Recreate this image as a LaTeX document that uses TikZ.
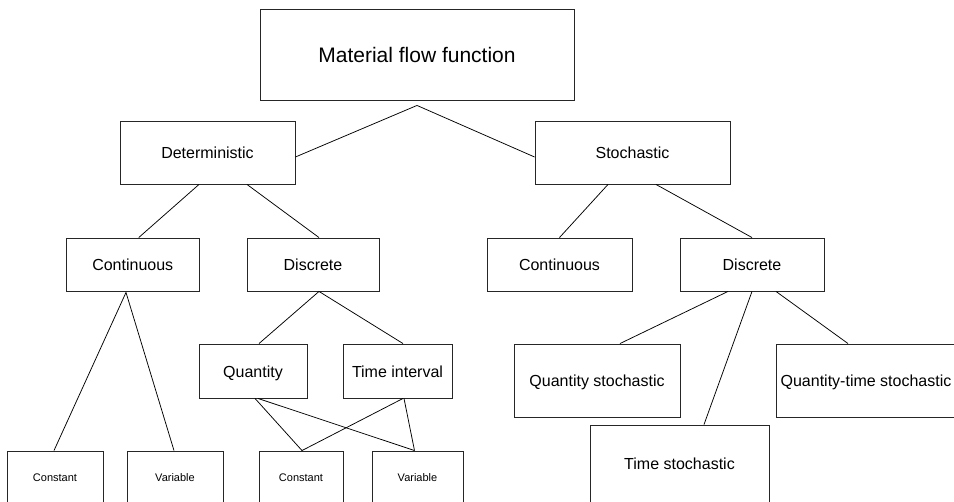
\documentclass[tikz,border=0pt]{standalone}
\usepackage{fontspec}
\setmainfont{Liberation Sans}
\usetikzlibrary{calc}
\begin{document}
\begin{tikzpicture}[x=1pt,y=-1pt,
  box/.style={draw=black!85,line width=0.9pt,inner sep=0pt,align=center,font=\fontsize{16}{19}\selectfont,text height=12.2pt,text depth=0pt},
  smallbox/.style={box,font=\fontsize{11}{13}\selectfont,text height=8pt,text depth=0pt},
  titlebox/.style={box,font=\fontsize{21}{25}\selectfont,text height=15.6pt,text depth=0pt},
  link/.style={draw=black,line width=0.75pt}]
\useasboundingbox (0,0) rectangle (954,502);
\clip (0,0) rectangle (954,502);
% level 1
\node[titlebox,minimum width=314pt,minimum height=91pt] (top) at (417,54.5) {Material flow function};
% level 2
\node[box,minimum width=175pt,minimum height=63pt] (det) at (207.5,152.5) {Deterministic};
\node[box,minimum width=195pt,minimum height=63pt] (sto) at (632.5,152.5) {Stochastic};
% level 3
\node[box,minimum width=132.5pt,minimum height=53pt] (dcont) at (132.75,264.5) {Continuous};
\node[box,minimum width=132pt,minimum height=53pt] (ddisc) at (313,264.5) {Discrete};
\node[box,minimum width=145pt,minimum height=53pt] (scont) at (559.5,264.5) {Continuous};
\node[box,minimum width=144pt,minimum height=53pt] (sdisc) at (752,264.5) {Discrete};
% level 4 deterministic discrete
\node[box,minimum width=108pt,minimum height=54pt] (quan) at (253,371) {Quantity};
\node[box,minimum width=109pt,minimum height=54pt] (tint) at (397.5,371) {Time interval};
% level 4 stochastic discrete
\node[box,minimum width=166pt,minimum height=73pt] (qs) at (597,380.5) {Quantity stochastic};
\node[box,minimum width=179pt,minimum height=77pt] (ts) at (679.5,463.5) {Time stochastic};
\node[box,minimum width=180pt,minimum height=73pt] (qts) at (866,380.5) {Quantity-time stochastic};
% level 5
\node[smallbox,minimum width=96pt,minimum height=54pt] (const1) at (55,478) {Constant};
\node[smallbox,minimum width=96pt,minimum height=54pt] (var1) at (175,478) {Variable};
\node[smallbox,minimum width=84pt,minimum height=54pt] (const2) at (301,478) {Constant};
\node[smallbox,minimum width=91pt,minimum height=54pt] (var2) at (417.5,478) {Variable};
% connectors
\coordinate (topapex) at ([yshift=-5pt]top.south);
\draw[link] ([yshift=-4.5pt]det.east) -- (topapex) -- ([yshift=-4.5pt]sto.west);
\draw[link] ([xshift=-8.5pt]det.south) -- ([xshift=6pt]dcont.north);
\draw[link] ([xshift=39.5pt]det.south) -- ([xshift=6pt]ddisc.north);
\draw[link] ([xshift=-24.5pt]sto.south) -- (scont.north);
\draw[link] ([xshift=23.5pt]sto.south) -- (sdisc.north);
\coordinate (dcontapex) at ([xshift=-6.75pt,yshift=-1pt]dcont.south);
\draw[link] ([xshift=-1pt]const1.north) -- (dcontapex) -- ([xshift=-1pt]var1.north);
\coordinate (ddiscapex) at ([xshift=6pt]ddisc.south);
\draw[link] ([xshift=6pt]quan.north) -- (ddiscapex) -- ([xshift=5.5pt]tint.north);
\draw[link] ([xshift=2pt]quan.south) -- ([xshift=1pt]const2.north);
\draw[link] ([xshift=5pt]quan.south) -- ([xshift=-3pt]var2.north);
\draw[link] ([xshift=5.5pt]tint.south) -- ([xshift=1pt]const2.north);
\draw[link] ([xshift=6.5pt]tint.south) -- ([xshift=-3pt]var2.north);
\draw[link] ([xshift=-24pt]sdisc.south) -- ([xshift=23pt]qs.north);
\draw[link] (sdisc.south) -- ([xshift=24.5pt]ts.north);
\draw[link] ([xshift=24pt]sdisc.south) -- ([xshift=-18pt]qts.north);
\end{tikzpicture}
\end{document}
